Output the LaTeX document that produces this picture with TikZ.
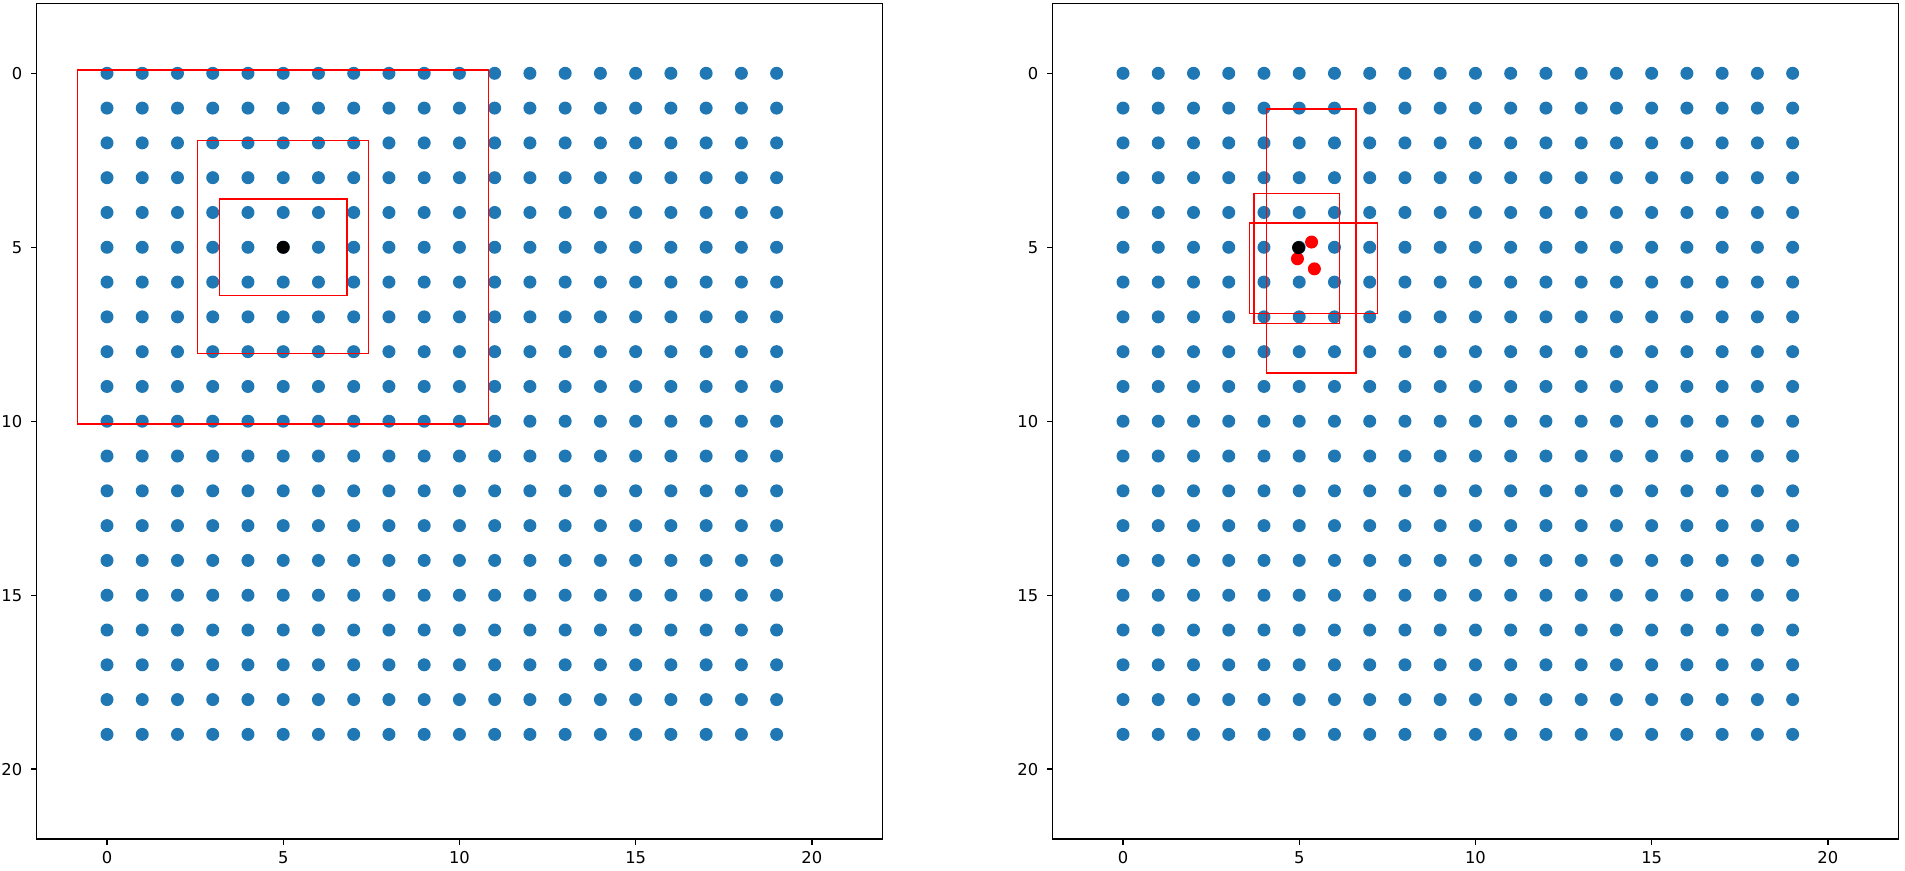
\documentclass[tikz,border=0pt]{standalone}
\usepackage{fontspec}
\setmainfont{DejaVu Sans}
\definecolor{mplblue}{HTML}{1F77B4}
\begin{document}
\begin{tikzpicture}[x=0.02cm,y=-0.02cm,
  dot/.style={fill=mplblue},
  spine/.style={draw=black, line width=0.85pt},
  tickmark/.style={draw=black, line width=0.8pt},
  box/.style={draw=red, line width=0.75pt},
  ticklbl/.style={font=\fontsize{9.3}{11}\selectfont, inner sep=0pt, text=black}]
\useasboundingbox (0,0) rectangle (1905,870);
\foreach \ox/\nm in {107/L,1123/R} {
  \begin{scope}[shift={(\ox,73.3)}, x=0.705cm, y=-0.696cm]
    \foreach \i in {0,...,19} {
      \foreach \j in {0,...,19} {
        \fill[dot] (\i,\j) circle[radius=0.13cm];
      }
    }
    \draw[spine] (-2,-2) rectangle (22,22);
    \foreach \t in {0,5,10,15,20} {
      \draw[tickmark] (\t,22) -- +(0,-0.12cm);
      \node[ticklbl, anchor=north, yshift=-0.254cm] (x\nm\t) at (\t,22) {\t};
      \draw[tickmark] (-2,\t) -- +(-0.12cm,0);
      \node[ticklbl, anchor=east, xshift=-0.28cm] (y\nm\t) at (-2,\t) {\t};
    }
  \end{scope}
}
% left axes boxes
\begin{scope}[shift={(107,73.3)}, x=0.705cm, y=-0.696cm]
  \draw[box] (-0.83,-0.095) rectangle (10.82,10.08);
  \draw[box] (2.56,1.93) rectangle (7.42,8.05);
  \draw[box] (3.2,3.61) rectangle (6.81,6.38);
  \fill[black] (5,5) circle[radius=0.13cm];
\end{scope}
% right axes boxes
\begin{scope}[shift={(1123,73.3)}, x=0.705cm, y=-0.696cm]
  \draw[box] (4.08,1.03) rectangle (6.61,8.61);
  \draw[box] (3.72,3.46) rectangle (6.14,7.2);
  \draw[box] (3.58,4.30) rectangle (7.23,6.91);
  \fill[red] (5.35,4.85) circle[radius=0.13cm];
  \fill[red] (4.95,5.33) circle[radius=0.13cm];
  \fill[red] (5.43,5.62) circle[radius=0.13cm];
  \fill[black] (4.98,5.01) circle[radius=0.13cm];
\end{scope}
\end{tikzpicture}
\end{document}
